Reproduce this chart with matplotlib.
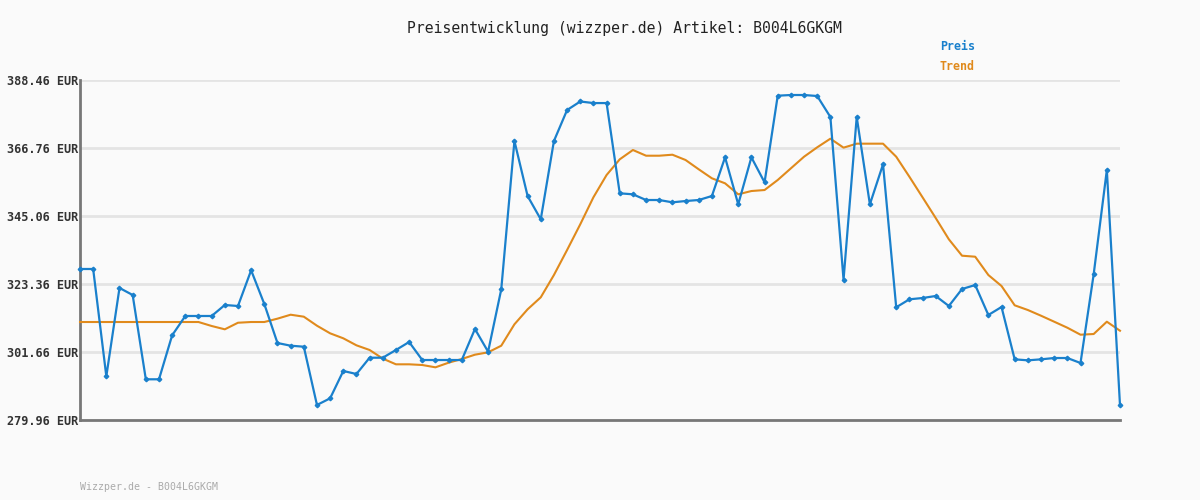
import matplotlib
matplotlib.use("Agg")
import matplotlib.pyplot as plt

# Preisverlauf (80 Messpunkte)
preis = [
    328.15, 328.15, 293.9, 322.1, 319.85, 292.95, 292.95, 306.99, 313.15, 313.15,
    313.15, 316.66, 316.34, 327.73, 316.98, 304.53, 303.67, 303.35, 284.75, 286.88,
    295.6, 294.64, 299.84, 299.84, 302.3, 304.85, 299.1, 299.1, 299.1, 299.1,
    309.0, 301.76, 321.67, 368.99, 351.44, 344.0, 368.99, 378.88, 381.6, 381.1,
    381.1, 352.3, 351.98, 350.16, 350.16, 349.42, 349.84, 350.16, 351.44, 363.79,
    348.79, 363.79, 355.8, 383.45, 383.67, 383.67, 383.35, 376.65, 324.73, 376.65,
    348.79, 361.55, 315.92, 318.47, 318.89, 319.53, 316.34, 321.76, 323.04, 313.47,
    316.02, 299.32, 299.0, 299.32, 299.74, 299.74, 298.15, 326.45, 359.74, 284.65,
]

trend = [
    311.23, 311.23, 311.23, 311.23, 311.23, 311.23, 311.23, 311.23, 311.23, 311.23,
    309.96, 308.9, 311.0, 311.23, 311.23, 312.3, 313.56, 312.93, 310.05, 307.62,
    306.03, 303.79, 302.3, 299.55, 297.73, 297.73, 297.51, 296.77, 298.25, 299.43,
    300.8, 301.56, 303.67, 310.5, 315.28, 319.11, 326.23, 334.21, 342.41, 351.03,
    358.14, 363.15, 366.12, 364.3, 364.3, 364.62, 362.93, 359.96, 357.09, 355.49,
    351.98, 353.03, 353.35, 356.55, 360.27, 363.98, 366.98, 369.73, 366.87, 368.14,
    368.14, 368.14, 363.98, 357.6, 351.03, 344.42, 337.62, 332.39, 332.07, 326.23,
    322.72, 316.56, 315.06, 313.24, 311.33, 309.41, 307.18, 307.4, 311.33, 308.45,
]

y_ticks = [279.96, 301.66, 323.36, 345.06, 366.76, 388.46]
artikel = "B004L6GKGM"

blau = "#1a80cc"
orange = "#e08a1c"
bg = "#fafafa"
mono = "DejaVu Sans Mono"

fig = plt.figure(figsize=(12, 5), dpi=100, facecolor=bg)
ax = fig.add_axes([80 / 1200, 80 / 500, 1040 / 1200, 340 / 500])
ax.set_facecolor(bg)

x = list(range(len(preis)))
ax.plot(x, trend, color=orange, lw=1.5, clip_on=False, zorder=3)
ax.plot(x, preis, color=blau, lw=1.6, marker="D", ms=2.3, clip_on=False, zorder=4)

ax.set_xlim(0, len(preis) - 1)
ax.set_ylim(y_ticks[0], y_ticks[-1])
ax.set_yticks(y_ticks)
ax.set_yticklabels(["%.2f EUR" % v for v in y_ticks], family=mono,
                   fontsize=8.6, fontweight="bold", color="#333333")
ax.set_xticks([])
ax.tick_params(axis="y", length=0, pad=1)
ax.grid(axis="y", color="#e4e4e4", lw=2)
ax.set_axisbelow(True)

for s in ["top", "right"]:
    ax.spines[s].set_visible(False)
for s in ["left", "bottom"]:
    ax.spines[s].set_color("#777777")
    ax.spines[s].set_linewidth(2)

fig.text(624 / 1200, 1 - 28 / 500, "Preisentwicklung (wizzper.de) Artikel: " + artikel,
         family=mono, fontsize=10.6, color="#222222", ha="center", va="center")
fig.text(940 / 1200, 1 - 47 / 500, "Preis", family=mono, fontsize=8.4,
         fontweight="bold", color=blau, va="center")
fig.text(940 / 1200, 1 - 67 / 500, "Trend", family=mono, fontsize=8.4,
         fontweight="bold", color=orange, va="center")
fig.text(80 / 1200, 1 - 487 / 500, "Wizzper.de - " + artikel, family=mono,
         fontsize=7.1, color="#aaaaaa", va="center")

fig.savefig("out.png", dpi=100, facecolor=bg)
